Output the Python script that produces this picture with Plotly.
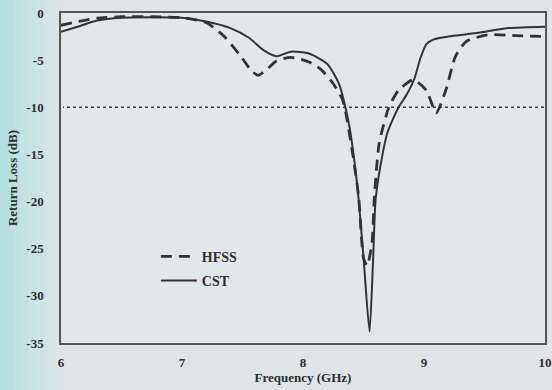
import plotly.graph_objects as go

# ---- data ----
cst_freq = [6.0, 6.15, 6.3, 6.5, 6.75, 7.0, 7.2, 7.4, 7.55, 7.68, 7.78, 7.9, 8.05, 8.2, 8.3,
            8.38, 8.45, 8.5, 8.55, 8.58, 8.6, 8.65, 8.7, 8.79, 8.86, 8.92, 8.97, 9.02, 9.08,
            9.2, 9.45, 9.7, 10.0]
cst_rl = [-2.0, -1.4, -0.8, -0.5, -0.45, -0.5, -0.9, -1.6, -2.6, -4.0, -4.6, -4.1, -4.3, -5.4, -7.6,
          -11.8, -18.5, -25.9, -33.8, -25.9, -19.8, -15.5, -12.6, -10.0, -8.6, -7.0, -4.8, -3.3, -2.8,
          -2.5, -2.1, -1.6, -1.45]

hfss_freq = [6.0, 6.15, 6.3, 6.5, 6.75, 7.0, 7.2, 7.35, 7.48, 7.58, 7.63, 7.7, 7.78, 7.9, 8.05,
             8.15, 8.25, 8.33, 8.41, 8.46, 8.5, 8.53, 8.57, 8.59, 8.63, 8.71, 8.79, 8.91, 9.02,
             9.1, 9.18, 9.26, 9.35, 9.54, 9.75, 10.0]
hfss_rl = [-1.3, -0.9, -0.55, -0.4, -0.4, -0.5, -1.0, -2.5, -4.5, -6.2, -6.6, -6.0, -5.1, -4.7, -5.2,
           -6.0, -7.5, -9.3, -14.9, -19.5, -26.0, -26.8, -24.4, -19.5, -13.8, -10.0, -8.2, -7.1, -8.2,
           -10.6, -8.2, -4.6, -3.0, -2.3, -2.4, -2.5]

x_ticks = [6, 7, 8, 9, 10]
y_ticks = [0, -5, -10, -15, -20, -25, -30, -35]
threshold = -10

ink = "#333333"
font_fam = "Liberation Serif, Times New Roman, serif"

fig = go.Figure()
fig.add_trace(go.Scatter(x=hfss_freq, y=hfss_rl, name="HFSS", mode="lines", legendgroup="a",
                         line=dict(color=ink, width=2.8, dash="11px,7px", shape="spline", smoothing=0.6)))
fig.add_trace(go.Scatter(x=cst_freq, y=cst_rl, name="CST", mode="lines", legendgroup="b",
                         line=dict(color=ink, width=2, shape="spline", smoothing=0.6)))

# -10 dB reference line
fig.add_shape(type="line", xref="paper", yref="y", x0=0, x1=1, y0=threshold, y1=threshold,
              line=dict(color="#444", width=1.5, dash="dot"), layer="below")

# scanned-page cyan tint on the left edge
W = 484.0
tint = ["#b4dfdf", "#b9e0e0", "#bee1e1", "#c3e2e2", "#c8e3e3", "#cde3e4", "#d2e4e5", "#d7e5e6", "#dbe5e6"]
for i, c in enumerate(tint):
    fig.add_shape(type="rect", xref="paper", yref="paper", x0=(-61 + i * 7) / W, x1=(-61 + (i + 1) * 7) / W,
                  y0=-0.2, y1=1.1, fillcolor=c, line=dict(width=0), layer="below")

fig.update_layout(
    width=552, height=390,
    margin=dict(l=61, r=7, t=13, b=47, autoexpand=False),
    paper_bgcolor="#dfe5e6",
    plot_bgcolor="#e2e7e9",
    font=dict(family=font_fam, color="#2e2e2e"),
    showlegend=True,
    legend=dict(x=0.196, y=0.31, xanchor="left", yanchor="top", bgcolor="rgba(0,0,0,0)",
                font=dict(family=font_fam, size=14, color="#2e2e2e", weight="bold"),
                tracegroupgap=3, itemwidth=36),
)
fig.update_xaxes(range=[6, 10], tickvals=x_ticks, ticktext=[f"<b>{t}</b>" for t in x_ticks],
                 showgrid=False, zeroline=False, showline=True, linecolor="#555", linewidth=1.5,
                 mirror=True, ticks="", ticklabelstandoff=7, automargin=False,
                 tickfont=dict(size=13, family=font_fam, color="#2e2e2e"),
                 title=dict(text="<b>Frequency (GHz)</b>", font=dict(size=13, family=font_fam), standoff=4))
fig.update_yaxes(range=[-35, 0], tickvals=y_ticks, ticktext=[f"<b>{t}</b>" for t in y_ticks],
                 showgrid=False, zeroline=False, showline=True, linecolor="#555", linewidth=1.5,
                 mirror=True, ticks="", ticklabelstandoff=13, automargin=False,
                 tickfont=dict(size=13, family=font_fam, color="#2e2e2e"),
                 title=dict(text="<b>Return Loss (dB)</b>", font=dict(size=13, family=font_fam), standoff=6))

fig.write_html("out.html", config={"displayModeBar": False},
               post_script="document.body.style.margin='0';")
